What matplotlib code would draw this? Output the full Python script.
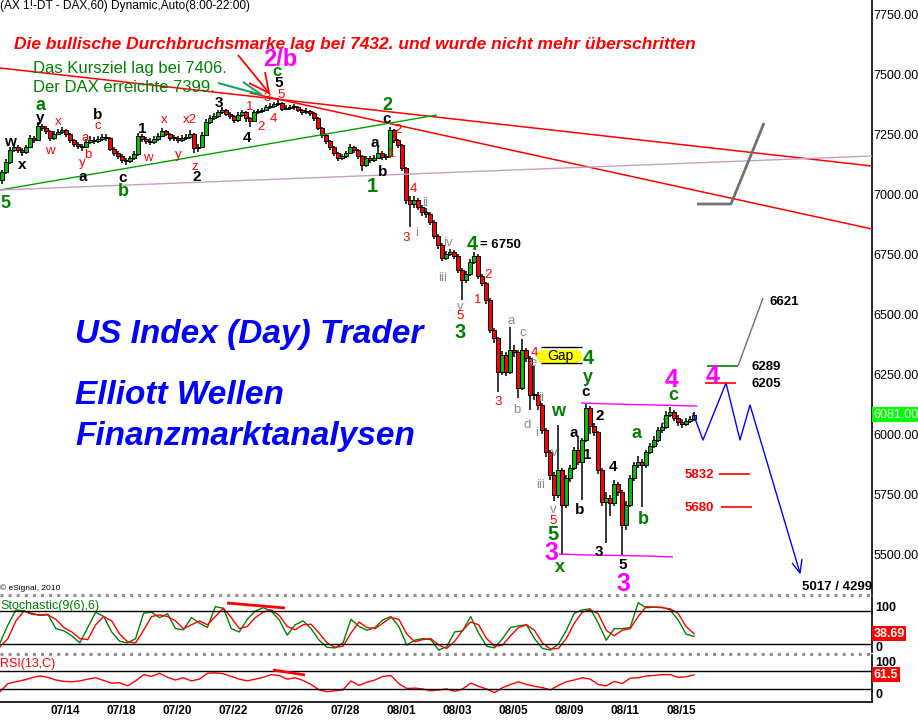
import numpy as np
import matplotlib
matplotlib.use("Agg")
import matplotlib.pyplot as plt
from matplotlib.patches import FancyBboxPatch
import matplotlib.transforms as mtransforms

plt.rcParams['font.family'] = ['Liberation Sans', 'DejaVu Sans']

# ---------------- data (2-hour bars) ----------------
first_open = 7060
close = [7092, 7133, 7183, 7196, 7183, 7175, 7196, 7233, 7225, 7283,
         7275, 7262, 7233, 7250, 7258, 7267, 7250, 7225, 7208, 7200,
         7196, 7217, 7225, 7221, 7229, 7238, 7233, 7188, 7171, 7158,
         7142, 7138, 7150, 7167, 7242, 7229, 7221, 7217, 7229, 7242,
         7262, 7250, 7233, 7233, 7225, 7233, 7238, 7250, 7192, 7196,
         7246, 7300, 7317, 7325, 7342, 7350, 7333, 7325, 7308, 7329,
         7342, 7317, 7304, 7342, 7346, 7350, 7362, 7367, 7375, 7379,
         7354, 7358, 7362, 7362, 7350, 7342, 7346, 7338, 7317, 7275,
         7246, 7221, 7196, 7171, 7150, 7158, 7171, 7196, 7183, 7158,
         7121, 7150, 7142, 7150, 7171, 7154, 7158, 7267, 7225, 7204,
         7108, 6975, 6958, 6975, 6946, 6925, 6917, 6883, 6825, 6788,
         6733, 6750, 6758, 6742, 6683, 6642, 6667, 6717, 6742, 6658,
         6629, 6558, 6433, 6400, 6258, 6329, 6258, 6350, 6342, 6192,
         6350, 6317, 6162, 6162, 6121, 6017, 5925, 5829, 5746, 5850,
         5704, 5817, 5858, 5933, 5883, 5975, 6108, 6033, 6008, 5850,
         5717, 5733, 5712, 5792, 5758, 5621, 5704, 5817, 5871, 5883,
         5871, 5925, 5950, 5975, 6017, 6029, 6079, 6092, 6067, 6050,
         6042, 6054, 6062, 6081]
high = [7100, 7145, 7195, 7210, 7205, 7190, 7205, 7245, 7240, 7300,
        7292, 7282, 7268, 7262, 7272, 7280, 7272, 7255, 7230, 7215,
        7210, 7228, 7240, 7236, 7242, 7250, 7248, 7236, 7195, 7178,
        7165, 7150, 7160, 7178, 7255, 7250, 7238, 7232, 7240, 7255,
        7275, 7268, 7255, 7245, 7242, 7245, 7250, 7265, 7255, 7210,
        7258, 7312, 7328, 7336, 7352, 7362, 7356, 7340, 7330, 7340,
        7350, 7346, 7320, 7352, 7356, 7360, 7372, 7378, 7385, 7399,
        7384, 7370, 7372, 7374, 7366, 7356, 7358, 7352, 7342, 7320,
        7280, 7250, 7226, 7200, 7175, 7168, 7180, 7208, 7202, 7188,
        7162, 7160, 7158, 7162, 7200, 7178, 7168, 7280, 7272, 7230,
        7208, 7112, 6990, 6990, 6982, 6955, 6940, 6925, 6890, 6832,
        6795, 6762, 6770, 6765, 6748, 6690, 6680, 6728, 6758, 6748,
        6665, 6635, 6565, 6440, 6405, 6345, 6340, 6446, 6370, 6350,
        6395, 6360, 6325, 6282, 6175, 6130, 6025, 5935, 5840, 6037,
        5860, 5830, 5872, 5945, 5990, 5985, 6125, 6115, 6045, 6012,
        5860, 5760, 5745, 5810, 5800, 5765, 5720, 5830, 5885, 5910,
        5895, 5935, 5962, 5990, 6030, 6045, 6095, 6112, 6100, 6080,
        6062, 6068, 6075, 6090]
low = [7040, 7085, 7125, 7175, 7170, 7160, 7168, 7190, 7212, 7220,
       7262, 7250, 7220, 7225, 7244, 7250, 7238, 7212, 7195, 7188,
       7180, 7190, 7210, 7210, 7214, 7222, 7222, 7180, 7160, 7145,
       7130, 7120, 7130, 7142, 7160, 7215, 7210, 7205, 7210, 7222,
       7236, 7240, 7222, 7220, 7212, 7218, 7225, 7230, 7170, 7175,
       7190, 7240, 7292, 7310, 7318, 7335, 7325, 7312, 7295, 7300,
       7322, 7300, 7280, 7298, 7335, 7338, 7345, 7355, 7360, 7368,
       7345, 7348, 7350, 7350, 7340, 7330, 7335, 7325, 7305, 7265,
       7235, 7210, 7185, 7160, 7138, 7142, 7150, 7165, 7172, 7145,
       7095, 7112, 7130, 7135, 7145, 7140, 7140, 7150, 7212, 7190,
       7095, 6960, 6862, 6940, 6935, 6910, 6900, 6870, 6812, 6770,
       6720, 6725, 6740, 6730, 6670, 6558, 6630, 6660, 6710, 6645,
       6615, 6540, 6420, 6380, 6175, 6245, 6240, 6250, 6320, 6150,
       6185, 6300, 6100, 6140, 6100, 6000, 5905, 5810, 5720, 5735,
       5495, 5690, 5800, 5850, 5870, 5725, 5965, 6000, 5990, 5835,
       5700, 5546, 5660, 5700, 5740, 5495, 5600, 5695, 5805, 5860,
       5696, 5860, 5915, 5940, 5965, 6005, 6020, 6070, 6055, 6035,
       6025, 6035, 6045, 6055]

stoch_k = [22, 55, 82, 80, 74, 73, 74, 48, 44, 35,
           22, 50, 78, 70, 42, 25, 22, 30, 76, 78,
           68, 75, 48, 46, 68, 58, 50, 88, 85, 48,
           42, 65, 80, 86, 80, 64, 36, 55, 62, 48,
           27, 14, 13, 22, 65, 52, 45, 50, 64, 70,
           52, 18, 27, 30, 28, 9, 15, 42, 44, 70,
           40, 16, 13, 30, 50, 53, 55, 30, 12, 9,
           20, 45, 76, 82, 84, 58, 27, 48, 48, 50,
           95, 86, 87, 87, 82, 64, 38, 34]
stoch_d = [15, 30, 62, 80, 76, 72, 73, 65, 50, 42,
           30, 28, 55, 70, 62, 38, 24, 22, 45, 70,
           73, 70, 62, 48, 55, 62, 55, 70, 85, 68,
           48, 52, 68, 78, 82, 72, 52, 46, 55, 56,
           40, 22, 14, 16, 40, 60, 50, 48, 58, 68,
           65, 38, 24, 28, 30, 18, 12, 25, 45, 60,
           55, 30, 16, 18, 35, 50, 55, 45, 22, 11,
           12, 30, 58, 78, 82, 75, 45, 35, 45, 48,
           70, 88, 87, 86, 84, 76, 52, 38.69]
rsi = [24, 42, 46, 50, 55, 59, 56, 50, 47, 46,
       48, 52, 55, 49, 43, 44, 37, 48, 62, 58,
       65, 56, 50, 55, 48, 52, 65, 66, 64, 58,
       52, 48, 52, 56, 62, 60, 52, 55, 49, 40,
       28, 24, 26, 28, 48, 38, 45, 50, 58, 60,
       42, 31, 32, 30, 26, 28, 30, 25, 30, 43,
       36, 30, 22, 33, 40, 46, 40, 36, 33, 28,
       38, 46, 50, 55, 52, 40, 37, 47, 42, 54,
       55, 59, 60, 62, 62, 56, 57, 61.5]

date_labels = ['07/14', '07/18', '07/20', '07/22', '07/26', '07/28',
               '08/01', '08/03', '08/05', '08/09', '08/11', '08/15']
y_ticks = [5500, 5750, 6000, 6250, 6500, 6750, 7000, 7250, 7500, 7750]
last_price = 6081.00
last_stoch = 38.69
last_rsi = 61.5

# ---------------- layout ----------------
W, H = 918, 721
fig = plt.figure(figsize=(W / 100, H / 100), dpi=100)
fig.patch.set_facecolor('white')


def rect(x0, y0, x1, y1):
    return [x0 / W, 1 - y1 / H, (x1 - x0) / W, (y1 - y0) / H]


ax = fig.add_axes(rect(0, 0, 872, 595))
ax_st = fig.add_axes(rect(0, 597, 872, 652))
ax_rsi = fig.add_axes(rect(0, 655, 872, 702))

XMAX = 436  # hourly-bar units


def p2y(py):  # pixel row -> price (main panel scale)
    return 6000 + (434 - py) / 0.24


for a in (ax, ax_st, ax_rsi):
    a.set_xlim(0, XMAX)
    for s in ('left', 'top', 'bottom'):
        a.spines[s].set_visible(False)
    a.spines['right'].set_color('black')
    a.spines['right'].set_linewidth(1.2)
    a.tick_params(axis='both', length=0)
    a.set_xticks([])
    a.set_facecolor('white')
ax_rsi.spines['bottom'].set_visible(True)
ax_rsi.spines['bottom'].set_linewidth(1.2)

# ---------------- candles ----------------
n = len(close)
xs = 1 + 2 * np.arange(n)
o = np.array([first_open] + close[:-1], dtype=float)
c = np.array(close, dtype=float)
hi = np.maximum(np.array(high, float), np.maximum(o, c))
lo = np.minimum(np.array(low, float), np.minimum(o, c))
ax.vlines(xs, lo, hi, color='black', lw=1.1, zorder=2)
bottom = np.minimum(o, c)
height = np.maximum(np.abs(c - o), 4)
cols = ['#00c000' if cc >= oo else '#ff0000' for oo, cc in zip(o, c)]
ax.bar(xs, height, bottom=bottom, width=1.8, color=cols, edgecolor='black',
       linewidth=0.7, zorder=3)
ax.set_ylim(p2y(595), p2y(0))
ax.yaxis.tick_right()
ax.set_yticks(y_ticks)
ax.set_yticklabels([f"{v:.2f}" for v in y_ticks], fontsize=9)
ax.tick_params(axis='y', pad=1)

trans_main = mtransforms.blended_transform_factory(ax.transAxes, ax.transData)
ax.text(1.002, last_price, f"{last_price:.2f}", transform=trans_main, ha='left',
        va='center', fontsize=9, color='white', clip_on=False, zorder=10,
        bbox=dict(boxstyle='square,pad=0.12', fc='#00ff00', ec='none'))

# ---------------- stochastic ----------------
xi = np.linspace(0, 347, len(stoch_k))
ax_st.plot(xi, stoch_k, color='#008000', lw=1.0)
ax_st.plot(xi, stoch_d, color='#ff0000', lw=1.0)
ax_st.axhline(80, color='black', lw=1.0)
ax_st.axhline(20, color='black', lw=1.0)
ax_st.set_ylim(5.5, 105.5)
ax_st.set_yticks([])
trans_st = mtransforms.blended_transform_factory(ax_st.transAxes, ax_st.transData)
ax_st.text(1.002, last_stoch, f"{last_stoch:.2f}", transform=trans_st, ha='left',
           va='center', fontsize=9, color='white', fontweight='bold', clip_on=False,
           bbox=dict(boxstyle='square,pad=0.12', fc='#ff0000', ec='none'))

# ---------------- RSI ----------------
ax_rsi.plot(xi, rsi, color='#ff0000', lw=1.0)
ax_rsi.axhline(70, color='black', lw=1.0)
ax_rsi.axhline(30, color='black', lw=1.0)
ax_rsi.set_ylim(1.1, 105.6)
ax_rsi.set_yticks([])
trans_rsi = mtransforms.blended_transform_factory(ax_rsi.transAxes, ax_rsi.transData)
ax_rsi.text(1.002, last_rsi, f"{last_rsi}", transform=trans_rsi, ha='left',
            va='center', fontsize=9, color='white', fontweight='bold', clip_on=False,
            bbox=dict(boxstyle='square,pad=0.12', fc='#ff0000', ec='none'))
ax_rsi.set_xticks(32.5 + 28 * np.arange(len(date_labels)))
ax_rsi.set_xticklabels(date_labels, fontsize=8.5, fontweight='bold')
ax_rsi.tick_params(axis='x', pad=2)

# ---------------- overlay for annotations (pixel coordinates) ----------------
ov = fig.add_axes([0, 0, 1, 1], zorder=20)
ov.set_xlim(0, W)
ov.set_ylim(H, 0)
ov.axis('off')
ov.patch.set_alpha(0)


def line(pts, color, lw=1.0, ls='-'):
    xs_, ys_ = zip(*pts)
    ov.plot(xs_, ys_, color=color, lw=lw, ls=ls, solid_capstyle='butt')


def lab(x, y, s, color, size=9, bold=False, style='normal', ha='center'):
    ov.text(x, y, s, color=color, fontsize=size, ha=ha, va='center',
            fontweight='bold' if bold else 'normal', fontstyle=style)


# trend lines
line([(0, 68), (872, 166)], '#ff0000', 1.1)
line([(250, 93), (872, 229)], '#ff0000', 1.1)
line([(0, 190), (437, 115)], '#00a000', 1.0)
line([(0, 190), (872, 156)], '#c8a0c8', 1.0)
line([(697, 204), (731, 204), (764, 123)], '#707070', 2.0)

# arrows at the top
for p in [(238, 55), (249, 83), (265, 72)]:
    line([p, (269, 93)], '#ff0000', 1.3)
for p in [(218, 83), (243, 82)]:
    line([p, (262, 95)], '#20a060', 1.5)

# magenta support/resistance lines
line([(581, 403), (610, 404), (697, 406)], '#ff00ff', 1.0)
line([(559, 554), (588, 555), (647, 556), (673, 557)], '#ff00ff', 1.0)

# gap box
ov.add_patch(FancyBboxPatch((537, 350), 45, 13, boxstyle='round,pad=0,rounding_size=6',
                            fc='#ffff00', ec='none'))
line([(541, 347), (582, 347)], 'black', 1.0)
line([(541, 363), (582, 363)], 'black', 1.0)
lab(560, 356, 'Gap', 'black', 10)

# projections
line([(657, 445), (665, 416)], '#0000ff', 1.0, ':')
line([(693, 413), (703, 440), (726, 383), (740, 440), (750, 405), (800, 573)], '#0000ff', 1.0)
line([(792, 563), (800, 573), (802, 559)], '#0000ff', 1.0)
line([(705, 383), (736, 383)], '#ff0000', 1.2)
line([(707, 366), (738, 366)], '#008000', 1.2)
line([(738, 366), (763, 298)], '#707070', 1.0)
line([(719, 474), (750, 474)], '#ff0000', 1.2)
line([(721, 507), (752, 507)], '#ff0000', 1.2)
lab(769, 302, '6621', 'black', 9.5, True, ha='left')
lab(751, 367, '6289', 'black', 9.5, True, ha='left')
lab(751, 384, '6205', 'black', 9.5, True, ha='left')
lab(699, 475, '5832', '#ff0000', 9.5, True)
lab(699, 508, '5680', '#ff0000', 9.5, True)
lab(837, 587, '5017 / 4299', 'black', 9.5, True)
lab(713, 376, '4', '#ff00ff', 18, True)

# header texts
lab(0, 6, '(AX 1!-DT - DAX,60) Dynamic,Auto(8:00-22:00)', 'black', 8.6, ha='left')
lab(14, 45, 'Die bullische Durchbruchsmarke lag bei 7432. und wurde nicht mehr überschritten',
    '#ff0000', 12.5, True, 'italic', ha='left')
lab(33, 68, 'Das Kursziel lag bei 7406.', '#008000', 12, ha='left')
lab(33, 88, 'Der DAX erreichte 7399.', '#008000', 12, ha='left')

# big blue texts
lab(75, 335, 'US Index (Day) Trader', '#0000ff', 24, True, 'italic', ha='left')
lab(75, 395, 'Elliott Wellen', '#0000ff', 24, True, 'italic', ha='left')
lab(75, 437, 'Finanzmarktanalysen', '#0000ff', 24, True, 'italic', ha='left')

# small chart texts
lab(0, 588, '© eSignal, 2010', 'black', 6, ha='left')
lab(0, 606, 'Stochastic(9(6),6)', '#008000', 9, ha='left')
lab(0, 664, 'RSI(13,C)', '#ff0000', 9, ha='left')
lab(875, 608, '100', 'black', 9, True, ha='left')
lab(875, 648, '0', 'black', 9, True, ha='left')
lab(875, 663, '100', 'black', 9, True, ha='left')
lab(875, 695, '0', 'black', 9, True, ha='left')

# divergence lines
line([(227, 603), (285, 608)], '#ff0000', 2.0)
line([(273, 670), (305, 675)], '#ff0000', 2.0)

# separators
line([(0, 595), (872, 595)], '#909090', 2.2, ':')
line([(0, 654), (872, 654)], '#909090', 2.2, ':')

# Elliott wave labels: (x, y, text, color, size, bold)
G, K, R, GR, M = '#008000', 'black', '#ff0000', '#8c8c8c', '#ff00ff'
sr, sk, sg, sn, sm = 9.5, 11, 13, 14.5, 18
wave = [
    (10, 142, 'w', K, sk, True), (22, 165, 'x', K, sk, True), (40, 105, 'a', G, sg, True),
    (40, 118, 'y', K, sk, True), (58, 122, 'x', R, sr, False), (50, 151, 'w', R, sr, False),
    (98, 115, 'b', K, sk, True), (98, 126, 'c', R, sr, False), (85, 138, 'a', R, sr, False),
    (88, 155, 'b', R, sr, False), (82, 163, 'y', R, sr, False), (83, 177, 'a', K, sk, True),
    (142, 129, '1', K, sk, True), (164, 120, 'x', R, sr, False), (148, 158, 'w', R, sr, False),
    (178, 155, 'y', R, sr, False), (123, 178, 'c', K, sk, True), (123, 192, 'b', G, sg, True),
    (5, 203, '5', G, sg, True),
    (190, 120, 'x2', R, sr, False), (195, 167, 'z', R, sr, False), (197, 177, '2', K, sk, True),
    (219, 103, '3', K, sk, True), (250, 107, '1', R, sr, False), (261, 127, '2', R, sr, False),
    (247, 138, '4', K, sk, True), (273, 119, '4', R, sr, False), (267, 98, '3', R, sr, False),
    (281, 95, '5', R, sr, False), (279, 83, '5', K, sk, True), (277, 72, 'c', G, 12, True),
    (280, 59, '2/b', M, 17, True),
    (387, 105, '2', G, sg, True), (387, 119, 'c', K, sk, True), (398, 130, '2', R, sr, False),
    (375, 143, 'a', K, sk, True), (383, 172, 'b', K, sk, True), (372, 187, '1', G, sn, True),
    (392, 154, '1', R, sr, False), (413, 189, '4', R, sr, False), (425, 203, 'ii', GR, sr, False),
    (406, 238, '3', R, sr, False), (417, 233, 'i', GR, sr, False), (448, 243, 'iv', GR, sr, False),
    (472, 244, '4', G, sn, True), (443, 278, 'iii', GR, sr, False),
    (488, 275, '2', R, sr, False), (478, 300, '1', R, sr, False), (460, 307, 'v', GR, sr, False),
    (460, 316, '5', R, sr, False), (460, 333, '3', G, sn, True),
    (511, 321, 'a', GR, sr, False), (523, 333, 'c', GR, sr, False), (534, 353, '4', R, sr, False),
    (533, 363, 'e', GR, sr, False), (498, 402, '3', R, sr, False), (517, 410, 'b', GR, sr, False),
    (527, 425, 'd', GR, sr, False), (541, 398, 'ii', GR, sr, False), (537, 433, 'i', GR, sr, False),
    (558, 412, 'w', G, sg, True), (554, 453, 'v', GR, sr, False), (541, 485, 'iii', GR, sr, False),
    (553, 510, 'v', GR, sr, False), (553, 521, '5', R, sr, False), (553, 535, '5', G, sn, True),
    (551, 553, '3', M, sm, True), (560, 567, 'x', G, sg, True),
    (588, 358, '4', G, sn, True), (588, 377, 'y', G, sg, True), (586, 392, 'c', K, sk, True),
    (600, 416, '2', K, sk, True), (574, 433, 'a', K, sk, True), (587, 455, '1', K, sk, True),
    (580, 510, 'b', K, sk, True), (613, 467, '4', K, sk, True), (599, 552, '3', K, sk, True),
    (623, 565, '5', K, sk, True), (623, 584, '3', M, sm, True), (637, 433, 'a', G, sg, True),
    (643, 520, 'b', G, sg, True), (672, 380, '4', M, sm, True), (673, 395, 'c', G, sg, True),
]
for x, y, s, col, sz, b in wave:
    lab(x, y, s, col, sz, b)

lab(480, 245, '= 6750', 'black', 9.5, True, ha='left')

fig.savefig('out.png', dpi=100, facecolor='white')
